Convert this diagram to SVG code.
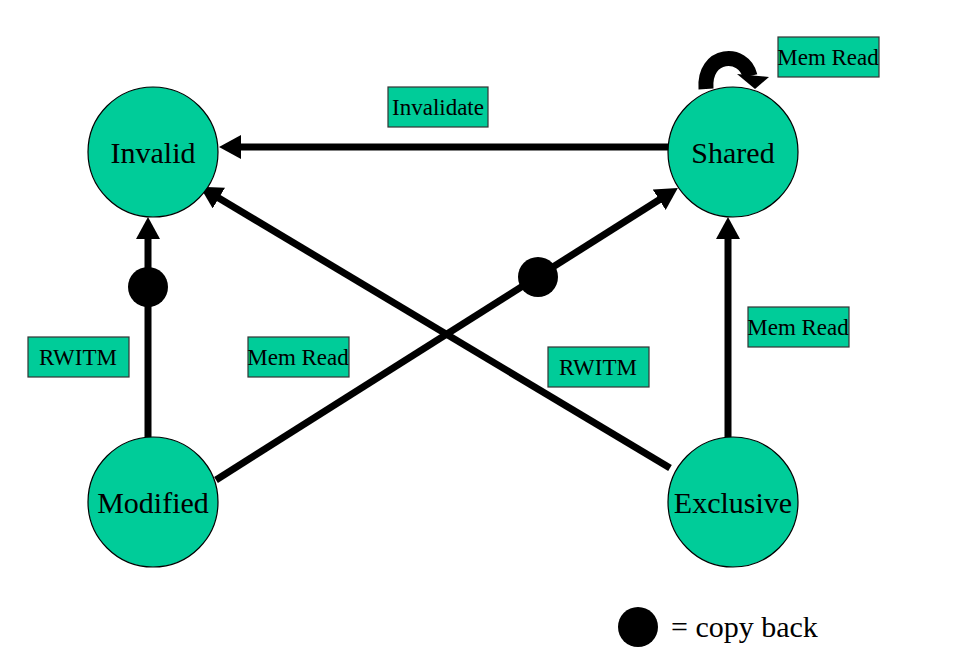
<svg xmlns="http://www.w3.org/2000/svg" width="973" height="660" viewBox="0 0 973 660">
<style>
.node{fill:#00CC99;stroke:#000;stroke-width:1.2}
.nt{font-family:"Liberation Serif","Times New Roman",serif;font-size:30px;fill:#000;text-anchor:middle}
.lbl{fill:#00CC99;stroke:#333;stroke-width:1.2}
.lt{font-family:"Liberation Serif","Times New Roman",serif;font-size:23px;fill:#000;text-anchor:middle}
.edge{stroke:#000;stroke-width:7;fill:none;marker-end:url(#ah)}
</style>
<defs>
<marker id="ah" markerUnits="userSpaceOnUse" markerWidth="22" markerHeight="24" refX="8" refY="12" orient="auto">
<path d="M0,0 L22,12 L0,24 z" fill="#000"/>
</marker>
</defs>
<rect width="973" height="660" fill="#fff"/>
<g id="connectors">
<line class="edge" x1="670" y1="147" x2="233" y2="147"/>
<line class="edge" x1="148" y1="440" x2="148" y2="231"/>
<line class="edge" x1="728" y1="440" x2="728" y2="231"/>
<line class="edge" x1="670" y1="468" x2="212" y2="194"/>
<line class="edge" x1="216" y1="480" x2="666" y2="195.5"/>
<circle cx="148" cy="287" r="20" fill="#000"/>
<circle cx="538" cy="277" r="20" fill="#000"/>
<path d="M706,89 C703,52 744,50 750,76" stroke="#000" stroke-width="15" fill="none"/>
<polygon points="737,74 769,77 755,89" fill="#000"/>
</g>
<g id="invalid"><circle class="node" cx="153" cy="152" r="65"/><text class="nt" x="153" y="163">Invalid</text></g>
<g id="shared"><circle class="node" cx="733" cy="152" r="65"/><text class="nt" x="733" y="163">Shared</text></g>
<g id="modified"><circle class="node" cx="153" cy="502" r="65"/><text class="nt" x="153" y="513">Modified</text></g>
<g id="exclusive"><circle class="node" cx="733" cy="502" r="65"/><text class="nt" x="733" y="513">Exclusive</text></g>
<g id="label-invalidate"><rect class="lbl" x="388" y="87" width="100" height="40"/><text class="lt" x="438" y="115">Invalidate</text></g>
<g id="label-memread-top"><rect class="lbl" x="778" y="37" width="101" height="40"/><text class="lt" x="828" y="65">Mem Read</text></g>
<g id="label-rwitm-left"><rect class="lbl" x="28" y="337" width="101" height="40"/><text class="lt" x="78" y="365">RWITM</text></g>
<g id="label-memread-left"><rect class="lbl" x="248" y="337" width="101" height="40"/><text class="lt" x="298" y="365">Mem Read</text></g>
<g id="label-rwitm-right"><rect class="lbl" x="548" y="347" width="101" height="40"/><text class="lt" x="598" y="375">RWITM</text></g>
<g id="label-memread-right"><rect class="lbl" x="748" y="307" width="101" height="40"/><text class="lt" x="798" y="335">Mem Read</text></g>
<g id="legend"><circle cx="638" cy="627" r="20" fill="#000"/><text x="671" y="637" font-family="'Liberation Serif','Times New Roman',serif" font-size="30" fill="#000">= copy back</text></g>
</svg>
